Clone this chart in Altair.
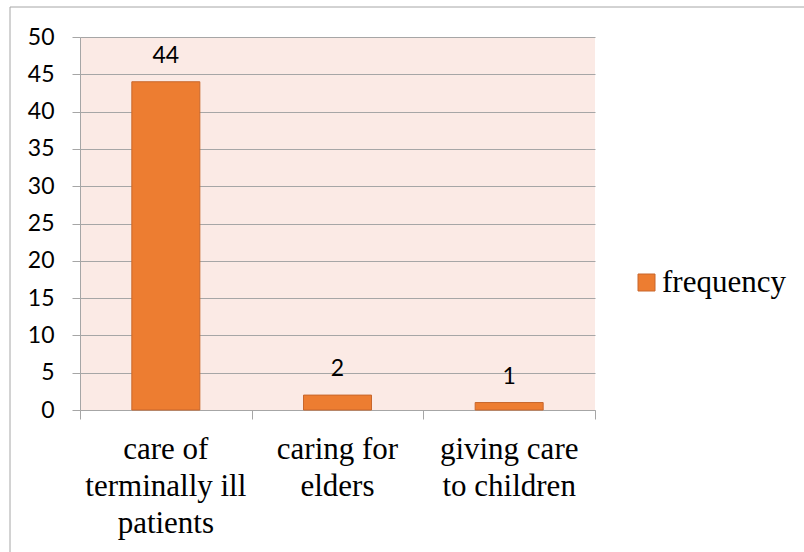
import altair as alt
import pandas as pd

# Activity categories and how often each was reported
categories = ["care of terminally ill patients", "caring for elders", "giving care to children"]
frequency = [44, 2, 1]
series_name = "frequency"

# Wrapped category labels shown under the x axis, one list of lines per category
category_lines = [["care of", "terminally ill", "patients"], ["caring for", "elders"], ["giving care", "to children"]]
y_ticks = [0, 5, 10, 15, 20, 25, 30, 35, 40, 45, 50]

df = pd.DataFrame({"category": categories, "frequency": frequency, "series": series_name})
lines_df = pd.DataFrame(
    [
        {"category": cat, "line_no": i, "line": text}
        for cat, lines in zip(categories, category_lines)
        for i, text in enumerate(lines)
    ]
)

BAR = "#ED7D31"
BAR_EDGE = "#C8672C"
GRID = "#A6A6A6"
SERIF = "Times New Roman, Liberation Serif, serif"
SANS = "Lato, Open Sans, sans-serif"
LINE_HEIGHT = 37
LABEL_TOP = 398

x_enc = alt.X(
    "category:N",
    sort=categories,
    scale=alt.Scale(paddingInner=0, paddingOuter=0),
    axis=alt.Axis(title=None, labels=False, tickBand="extent", grid=False),
)
y_enc = alt.Y(
    "frequency:Q",
    scale=alt.Scale(domain=[0, 50], nice=False),
    axis=alt.Axis(title=None, values=y_ticks),
)

base = alt.Chart(df).encode(x=x_enc, y=y_enc)

bars = base.mark_bar(size=68, stroke=BAR_EDGE, strokeWidth=1).encode(
    color=alt.Color(
        "series:N",
        scale=alt.Scale(domain=[series_name], range=[BAR]),
        legend=alt.Legend(
            title=None,
            orient="none",
            legendX=551,
            legendY=230,
            symbolType="square",
            symbolSize=289,
            symbolStrokeColor=BAR_EDGE,
            symbolStrokeWidth=1,
            symbolFillColor=BAR,
            labelFont=SERIF,
            labelFontSize=31,
            labelColor="black",
            labelOffset=0,
        ),
    ),
)

# Value labels above each bar
labels = base.mark_text(
    font=SANS, fontSize=23, color="black", baseline="alphabetic", dy=-19
).encode(text=alt.Text("frequency:Q"))

# Category names below the axis, one text layer per wrapped line
line_layers = [
    alt.Chart(lines_df)
    .transform_filter(alt.datum.line_no == i)
    .mark_text(font=SERIF, fontSize=31, baseline="top", align="center", color="black")
    .encode(
        x=alt.X("category:N", sort=categories),
        y=alt.value(LABEL_TOP + LINE_HEIGHT * i),
        text="line:N",
    )
    for i in range(3)
]

# Chart frame: top and left edges
frame_df = pd.DataFrame({"k": [0]})
frame_top = alt.Chart(frame_df).mark_rule(color=GRID, strokeWidth=1).encode(
    x=alt.value(-70), x2=alt.value(724), y=alt.value(-30)
)
frame_left = alt.Chart(frame_df).mark_rule(color=GRID, strokeWidth=1).encode(
    x=alt.value(-70), y=alt.value(-30), y2=alt.value(515)
)

chart = (
    alt.layer(bars, labels, *line_layers, frame_top, frame_left)
    .properties(
        width=515,
        height=373,
        autosize=alt.AutoSizeParams(type="none"),
        padding={"left": 80, "top": 37, "right": 209, "bottom": 142},
        background="white",
    )
    .configure_view(fill="#FBEAE5", stroke=None)
    .configure_axis(tickColor=GRID, domainColor=GRID, gridColor=GRID, gridWidth=1, labelColor="black")
    .configure_axisX(tickSize=9)
    .configure_axisY(labelFont=SANS, labelFontSize=23, labelPadding=18, tickSize=8)
)

chart.save("out.html", embed_options={"renderer": "svg", "actions": False})
